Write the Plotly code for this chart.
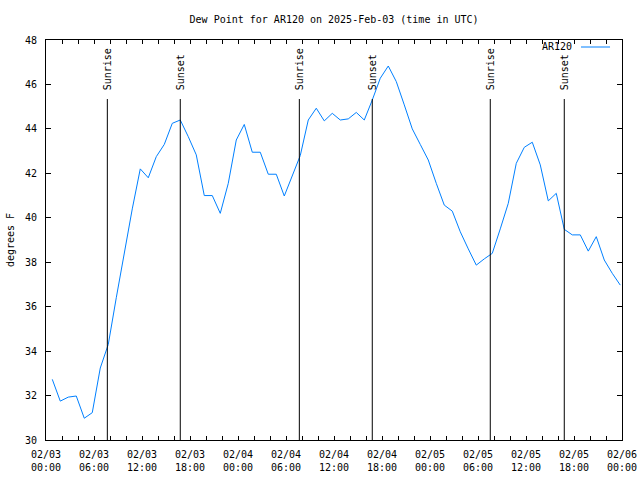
import pandas as pd
import plotly.graph_objects as go

# ---- data ----
first_obs = "2025-02-03 00:47"
dew_point = [
    32.73, 31.75, 31.93, 31.98, 30.98, 31.23, 33.24, 34.30, 36.40, 38.40,
    40.40, 42.20, 41.80, 42.75, 43.30, 44.25, 44.40, 43.65, 42.83, 41.00,
    41.00, 40.20, 41.55, 43.50, 44.20, 42.95, 42.95, 41.96, 41.96, 40.98,
    41.90, 42.80, 44.40, 44.93, 44.36, 44.70, 44.40, 44.45, 44.74, 44.40,
    45.30, 46.28, 46.83, 46.13, 45.08, 44.00, 43.30, 42.60, 41.55, 40.57,
    40.30, 39.37, 38.60, 37.87, 38.15, 38.40, 39.50, 40.65, 42.45, 43.17,
    43.40, 42.38, 40.76, 41.10, 39.48, 39.23, 39.23, 38.50, 39.15, 38.10,
    37.50, 36.97,
]
obs_times = pd.date_range(first_obs, periods=len(dew_point), freq="h")

sun_times = ["2025-02-03 07:40", "2025-02-03 16:47",
             "2025-02-04 07:40", "2025-02-04 16:47",
             "2025-02-05 07:32", "2025-02-05 16:47"]
sun_labels = ["Sunrise", "Sunset", "Sunrise", "Sunset", "Sunrise", "Sunset"]

tick_vals = ["2025-02-03 00:00", "2025-02-03 06:00", "2025-02-03 12:00", "2025-02-03 18:00",
             "2025-02-04 00:00", "2025-02-04 06:00", "2025-02-04 12:00", "2025-02-04 18:00",
             "2025-02-05 00:00", "2025-02-05 06:00", "2025-02-05 12:00", "2025-02-05 18:00",
             "2025-02-06 00:00"]
tick_text = ["02/03<br>00:00", "02/03<br>06:00", "02/03<br>12:00", "02/03<br>18:00",
             "02/04<br>00:00", "02/04<br>06:00", "02/04<br>12:00", "02/04<br>18:00",
             "02/05<br>00:00", "02/05<br>06:00", "02/05<br>12:00", "02/05<br>18:00",
             "02/06<br>00:00"]
y_ticks = [30, 32, 34, 36, 38, 40, 42, 44, 46, 48]

series_name = "AR120"
title = "Dew Point for AR120 on 2025-Feb-03 (time in UTC)"
line_color = "#0080ff"
FONT = "DejaVu Sans Mono"

fig = go.Figure()
fig.add_trace(go.Scatter(x=obs_times, y=dew_point, mode="lines", name=series_name,
                         line=dict(color=line_color, width=1), showlegend=False))

for t, lab in zip(sun_times, sun_labels):
    fig.add_shape(type="line", xref="x", yref="paper", x0=t, x1=t, y0=0, y1=0.8525,
                  line=dict(color="black", width=1))
    fig.add_annotation(x=t, xref="x", yref="paper", y=0.87, text=lab, textangle=-90,
                       showarrow=False, xanchor="center", yanchor="bottom",
                       font=dict(family=FONT, size=10, color="black"))

# legend (text left of sample line)
fig.add_annotation(xref="paper", yref="paper", x=0.9167, y=0.9825, text=series_name,
                   showarrow=False, xanchor="right", yanchor="middle",
                   font=dict(family=FONT, size=10, color="black"))
fig.add_shape(type="line", xref="paper", yref="paper", x0=0.9288, x1=0.9792, y0=0.9825, y1=0.9825,
              line=dict(color=line_color, width=1))

fig.update_layout(
    width=640, height=480,
    margin=dict(l=46, r=18, t=40, b=40),
    paper_bgcolor="white", plot_bgcolor="white",
    font=dict(family=FONT, size=10, color="black"),
    title=dict(text=title, x=0.522, xanchor="center", y=0.96, yanchor="middle",
               font=dict(family=FONT, size=10, color="black")),
    showlegend=False,
)
fig.update_xaxes(
    type="date", range=["2025-02-03 00:00", "2025-02-06 00:00"], automargin=False,
    tickmode="array", tickvals=tick_vals, ticktext=tick_text,
    ticks="inside", ticklen=4, tickcolor="black",
    showline=True, linecolor="black", linewidth=1, mirror="allticks",
    showgrid=False, zeroline=False, ticklabelstandoff=5,
    minor=dict(tickmode="linear", tick0="2025-02-03 00:00", dtick=7200000,
               ticks="inside", ticklen=4, tickcolor="black", showgrid=False),
    tickfont=dict(family=FONT, size=10, color="black"),
)
fig.update_yaxes(
    range=[30, 48], tickmode="array", tickvals=y_ticks, automargin=False,
    ticks="inside", ticklen=5, tickcolor="black",
    showline=True, linecolor="black", linewidth=1, mirror="allticks",
    showgrid=False, zeroline=False, ticklabelstandoff=6,
    title=dict(text="degrees F", standoff=8, font=dict(family=FONT, size=10, color="black")),
    tickfont=dict(family=FONT, size=10, color="black"),
)

fig.write_html("out.html")
